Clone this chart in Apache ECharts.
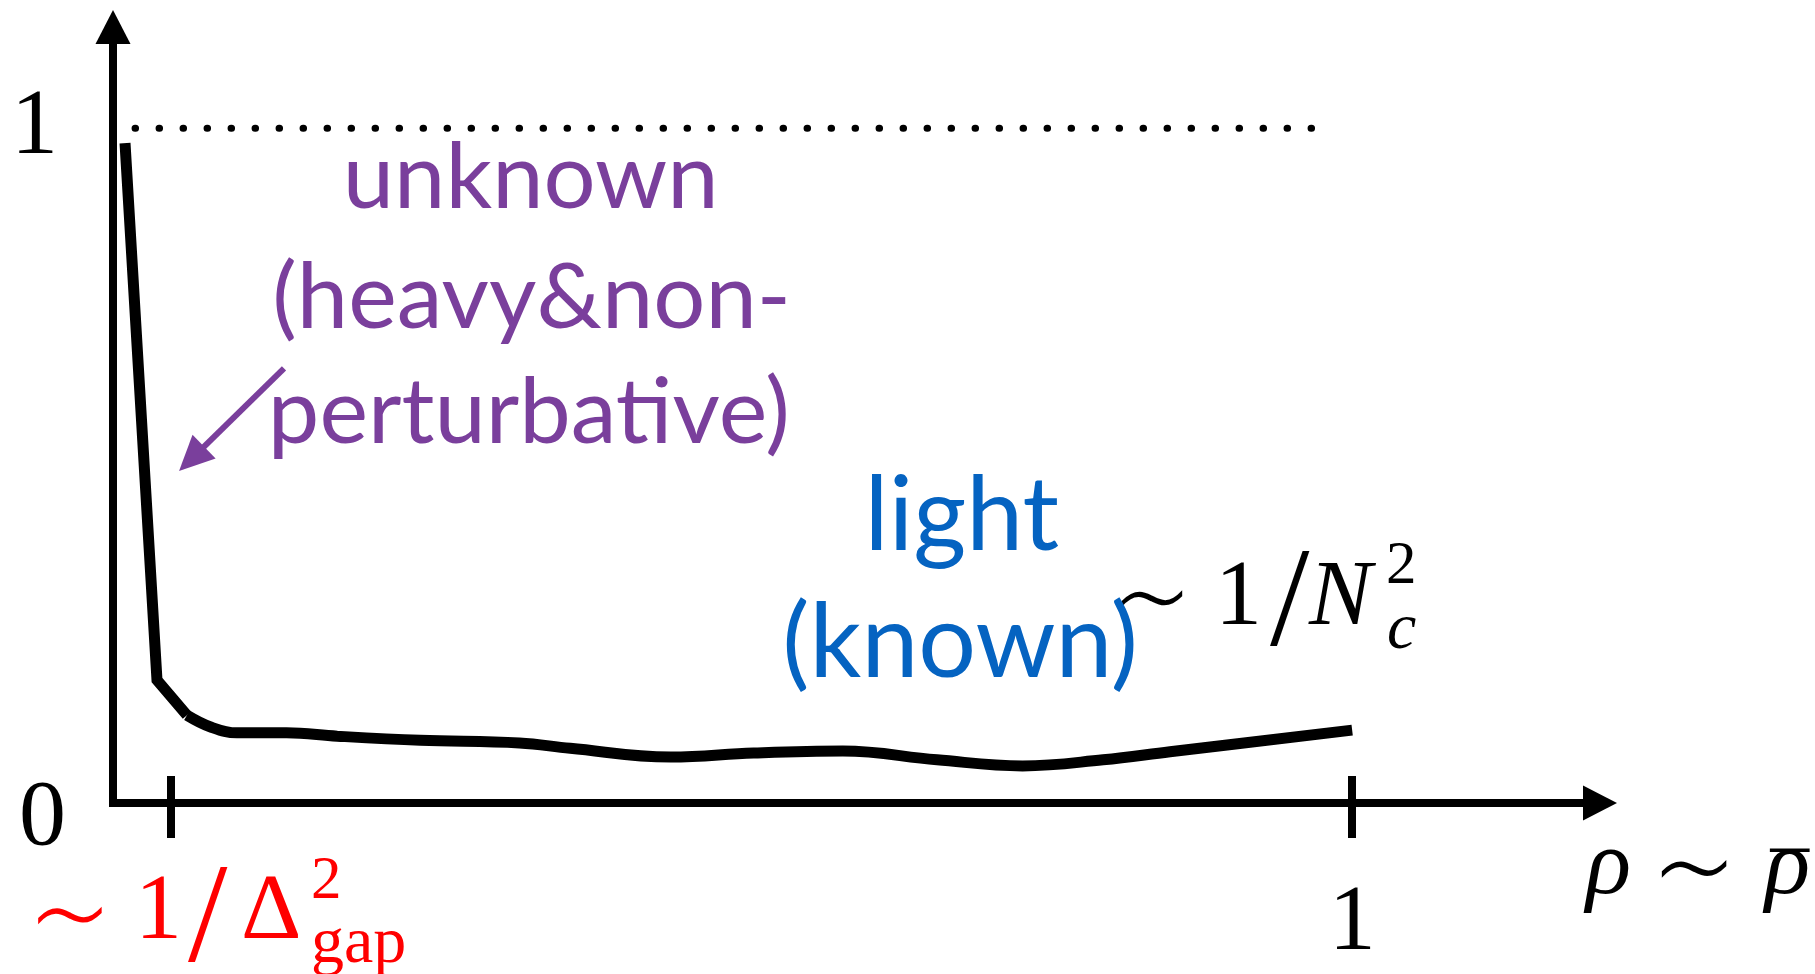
<!DOCTYPE html>
<html>
<head>
<meta charset="utf-8">
<script src="https://cdn.jsdelivr.net/npm/echarts@6/dist/echarts.min.js"></script>
<style>
  html, body { margin: 0; padding: 0; background: #ffffff; }
  #chart { width: 1815px; height: 974px; }
</style>
</head>
<body>
<div id="chart"></div>
<script>
// Sharp drop right after the origin (straight segments)
const steepPart = [[0.0097, 0.978], [0.0355, 0.182], [0.0597, 0.130]];
// Slowly varying tail of the curve (smoothed)
const tailPart = [
  [0.0597, 0.130], [0.0783, 0.113], [0.100, 0.104], [0.140, 0.104],
  [0.181, 0.099], [0.248, 0.093], [0.328, 0.089], [0.369, 0.081],
  [0.450, 0.068], [0.517, 0.074], [0.589, 0.077], [0.665, 0.064],
  [0.734, 0.055], [0.799, 0.064], [0.853, 0.076], [1.000, 0.108]
];
// Dotted level at 1
const upperLevel = [[0.0178, 1], [0.971, 1]];
// Axis ticks and labels
const xTickValues = [0.047, 1];
const xLabelValues = [1];
const xLabelTexts = ['1'];
const yLabelValues = [0, 1];
const yLabelTexts = ['0', '1'];
// Pointer from the "unknown" note to the steep part
const arrowFrom = [0.138, 0.644];
const arrowTo = [0.0634, 0.510];

const BLACK = '#000000';
const PURPLE = '#7a3f9c';
const BLUE = '#0563c1';
const RED = '#ff0000';
const SERIF = '"Liberation Serif", "DejaVu Serif", serif';
const SANS = 'Lato, "Open Sans", sans-serif';
const TILDE_FAMILY = '"DejaVu Sans", sans-serif';

// --- text placement by ink box -------------------------------------------
const mctx = document.createElement('canvas').getContext('2d');
function inkText(str, font, fill, pos) {
  mctx.font = font;
  mctx.textAlign = 'left';
  mctx.textBaseline = 'alphabetic';
  const ma = mctx.measureText(str);
  mctx.textBaseline = 'middle';
  const mm = mctx.measureText(str);
  const l = mm.actualBoundingBoxLeft, r = mm.actualBoundingBoxRight;
  const asc = mm.actualBoundingBoxAscent, desc = mm.actualBoundingBoxDescent;
  const baseShift = ma.actualBoundingBoxAscent - asc;
  let x, y;
  if (pos.left != null) x = pos.left + l;
  else if (pos.right != null) x = pos.right - r;
  else x = pos.cx - (r - l) / 2;
  if (pos.base != null) y = pos.base - baseShift;
  else if (pos.bottom != null) y = pos.bottom - desc;
  else if (pos.top != null) y = pos.top + asc;
  else y = pos.cy - (desc - asc) / 2;
  return {
    type: 'text', x: x, y: y, silent: true, z: 20,
    style: { text: str, font: font, fill: fill, align: 'left', verticalAlign: 'middle' }
  };
}
// font size giving a glyph the wanted ink width / height
function fitFont(str, family, width, weight) {
  const w0 = weight ? weight + ' ' : '';
  mctx.font = w0 + '100px ' + family;
  mctx.textBaseline = 'middle';
  const m = mctx.measureText(str);
  const w = m.actualBoundingBoxLeft + m.actualBoundingBoxRight;
  return w0 + (100 * width / w).toFixed(1) + 'px ' + family;
}
function fitFontH(str, family, height) {
  mctx.font = '100px ' + family;
  mctx.textBaseline = 'middle';
  const m = mctx.measureText(str);
  const h = m.actualBoundingBoxAscent + m.actualBoundingBoxDescent;
  return (100 * height / h).toFixed(1) + 'px ' + family;
}

const big = '94px ' + SERIF;
const bigIt = 'italic 94px ' + SERIF;
const small = '61px ' + SERIF;
const smallIt = 'italic 66px ' + SERIF;
const sub = '66px ' + SERIF;
const slash = fitFontH('/', SERIF, 95);

const texts = [];
// ~ 1/Δ²_gap under the first tick
texts.push(inkText('∼', fitFont('∼', TILDE_FAMILY, 64, 200), RED, { cx: 70, cy: 915 }));
texts.push(inkText('1', big, RED, { left: 143, base: 938 }));
texts.push(inkText('/', slash, RED, { left: 188, cy: 914 }));
texts.push(inkText('Δ', big, RED, { cx: 271, base: 938 }));
texts.push(inkText('2', small, RED, { left: 313, bottom: 898 }));
texts.push(inkText('gap', sub, RED, { left: 313, base: 962 }));
// ~ 1/N_c^2 beside the tail
texts.push(inkText('∼', fitFont('∼', TILDE_FAMILY, 61, 200), BLACK, { cx: 1152, cy: 598 }));
texts.push(inkText('1', big, BLACK, { left: 1223, base: 624 }));
texts.push(inkText('/', slash, BLACK, { left: 1270, cy: 598 }));
texts.push(inkText('N', bigIt, BLACK, { left: 1308, base: 624 }));
texts.push(inkText('2', small, BLACK, { left: 1388, bottom: 583 }));
texts.push(inkText('c', smallIt, BLACK, { left: 1389, base: 648 }));
// axis name ρ ~ ρ̄
texts.push(inkText('ρ', bigIt, BLACK, { left: 1583, base: 893 }));
texts.push(inkText('∼', fitFont('∼', TILDE_FAMILY, 65, 200), BLACK, { cx: 1694, cy: 868 }));
texts.push(inkText('ρ', bigIt, BLACK, { right: 1808, base: 893 }));
texts.push(inkText('¯', fitFont('¯', SERIF, 40), BLACK, { cx: 1790, cy: 850 }));
// region notes
const purpleFont = '92px ' + SANS;
[['unknown', 531, 208], ['(heavy&non-', 531, 328], ['perturbative)', 530, 443]].forEach(function (d) {
  texts.push(inkText(d[0], purpleFont, PURPLE, { cx: d[1], base: d[2] }));
});
const blueFont = '102px ' + SANS;
[['light', 965, 550], ['(known)', 960, 677]].forEach(function (d) {
  texts.push(inkText(d[0], blueFont, BLUE, { cx: d[1], base: d[2] }));
});

const axisLineStyle = { color: BLACK, width: 8, cap: 'square' };

const chart = echarts.init(document.getElementById('chart'), null, { renderer: 'canvas' });
chart.setOption({
  animation: false,
  backgroundColor: '#ffffff',
  tooltip: { show: false },
  grid: { left: 113, right: 215, top: 27, bottom: 171, containLabel: false, outerBoundsMode: 'none' },
  xAxis: [
    {
      type: 'value', min: 0, max: 1.2, position: 'bottom',
      axisLine: { show: true, onZero: false, symbol: ['none', 'triangle'], symbolSize: [35, 34], lineStyle: axisLineStyle },
      axisTick: { show: true, customValues: xTickValues, length: 35, lineStyle: { color: BLACK, width: 8 } },
      axisLabel: {
        show: true, customValues: xLabelValues,
        formatter: function (v) { return xLabelTexts[xLabelValues.indexOf(v)] || ''; },
        margin: 74, fontFamily: SERIF, fontSize: 94, lineHeight: 94, color: BLACK
      },
      splitLine: { show: false }
    },
    {
      type: 'value', min: 0, max: 1.2, position: 'bottom',
      axisLine: { show: false },
      axisTick: { show: true, inside: true, customValues: xTickValues, length: 27, lineStyle: { color: BLACK, width: 8 } },
      axisLabel: { show: false },
      splitLine: { show: false }
    }
  ],
  yAxis: {
    type: 'value', min: 0, max: 1.15,
    axisLine: { show: true, onZero: false, symbol: ['none', 'triangle'], symbolSize: [35, 34], lineStyle: axisLineStyle },
    axisTick: { show: false },
    splitLine: { show: false },
    axisLabel: {
      show: true, customValues: yLabelValues, margin: 47,
      formatter: function (v) {
        const t = yLabelTexts[yLabelValues.indexOf(v)];
        return v === 0 ? '{lo|' + t + '}' : '{hi|' + t + '}';
      },
      rich: {
        lo: { fontFamily: SERIF, fontSize: 94, lineHeight: 94, color: BLACK, padding: [32, 0, 0, 0] },
        hi: { fontFamily: SERIF, fontSize: 94, lineHeight: 94, color: BLACK, padding: [0, 8, 0, 0] }
      }
    }
  },
  series: [
    {
      type: 'line', data: steepPart, symbol: 'none', smooth: false, silent: true, z: 5,
      lineStyle: { color: BLACK, width: 11, join: 'miter' }
    },
    {
      type: 'line', data: tailPart, symbol: 'none', smooth: 0.4, silent: true, z: 5,
      lineStyle: { color: BLACK, width: 11 }
    },
    {
      type: 'line', data: upperLevel, symbol: 'none', silent: true, z: 4,
      lineStyle: { color: BLACK, width: 7, type: [0.5, 23.5], cap: 'round' },
      markLine: {
        silent: true, animation: false,
        symbol: ['none', 'triangle'], symbolSize: [33, 35],
        label: { show: false },
        lineStyle: { color: PURPLE, width: 6, type: 'solid', opacity: 1 },
        emphasis: { disabled: true },
        data: [[{ coord: arrowFrom }, { coord: arrowTo }]]
      }
    }
  ],
  graphic: texts
});
</script>
</body>
</html>
